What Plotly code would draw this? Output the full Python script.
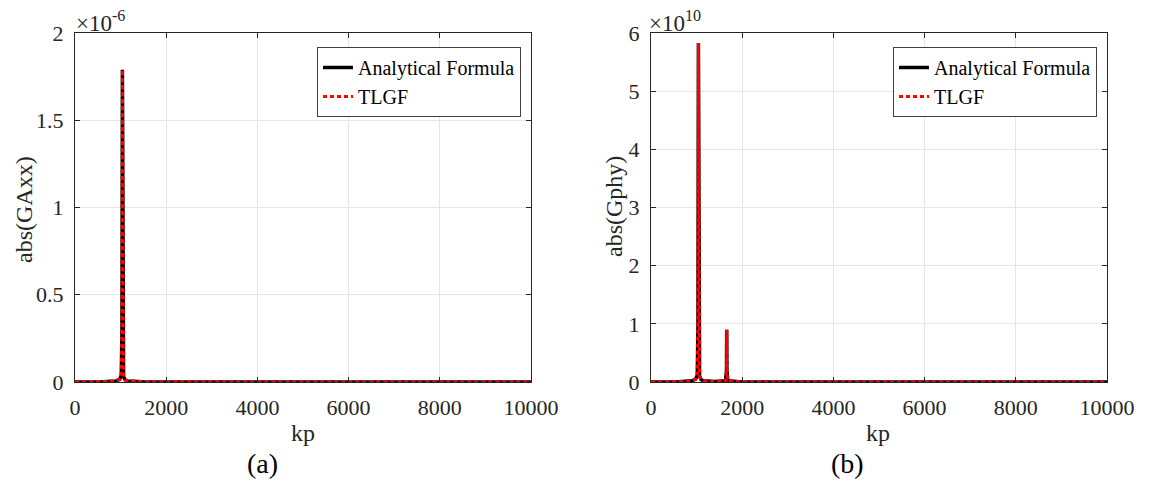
import plotly.graph_objects as go

# ---- data ----
kp_a = [0, 300, 600, 900, 980, 1015, 1030, 1040, 1050, 1065, 1100, 1150, 1500, 2000, 3000, 4000, 5000, 6000, 7000, 8000, 9000, 10000]
gaxx = [0.0, 0.0, 0.002e-6, 0.006e-6, 0.015e-6, 0.04e-6, 0.3e-6, 1.79e-6, 0.3e-6, 0.03e-6, 0.012e-6, 0.006e-6, 0.002e-6, 0.001e-6, 0.0, 0.0, 0.0, 0.0, 0.0, 0.0, 0.0, 0.0]

kp_b = [0, 300, 600, 900, 980, 1015, 1030, 1040, 1050, 1065, 1100, 1150, 1400, 1635, 1655, 1660, 1665, 1685, 2000, 3000, 4000, 5000, 6000, 7000, 8000, 9000, 10000]
gphy = [0.0, 0.0, 0.005e10, 0.02e10, 0.05e10, 0.12e10, 1.0e10, 5.83e10, 1.0e10, 0.1e10, 0.04e10, 0.02e10, 0.01e10, 0.02e10, 0.2e10, 0.90e10, 0.2e10, 0.02e10, 0.0, 0.0, 0.0, 0.0, 0.0, 0.0, 0.0, 0.0, 0.0]

series_names = ["Analytical Formula", "TLGF"]
x_ticks = [0, 2000, 4000, 6000, 8000, 10000]
ya_ticks = [0, 0.5e-6, 1e-6, 1.5e-6, 2e-6]
ya_labels = ["0", "0.5", "1", "1.5", "2"]
yb_ticks = [0, 1e10, 2e10, 3e10, 4e10, 5e10, 6e10]
yb_labels = ["0", "1", "2", "3", "4", "5", "6"]

FONT = "Liberation Serif"
AX = "#262626"
GRID = "#e6e6e6"

fig = go.Figure()

for (xs, ys, xa, ya, lg) in [(kp_a, gaxx, "x", "y", "legend"), (kp_b, gphy, "x2", "y2", "legend2")]:
    fig.add_trace(go.Scatter(x=xs, y=ys, xaxis=xa, yaxis=ya, mode="lines", name=series_names[0],
                             line=dict(color="black", width=3.5), legend=lg))
    fig.add_trace(go.Scatter(x=xs, y=ys, xaxis=xa, yaxis=ya, mode="lines", name=series_names[1],
                             line=dict(color="#ff0000", width=3, dash="4px,3px"), legend=lg))

common_x = dict(range=[0, 10000], tickvals=x_ticks, ticktext=[str(v) for v in x_ticks],
                showline=True, linecolor=AX, linewidth=1, mirror="ticks", ticks="inside",
                ticklen=5, tickcolor=AX, showgrid=True, gridcolor=GRID, gridwidth=1, zeroline=False,
                tickfont=dict(family=FONT, size=22, color=AX), automargin=False, ticklabelstandoff=6)
common_y = dict(showline=True, linecolor=AX, linewidth=1, mirror="ticks", ticks="inside",
                ticklen=5, tickcolor=AX, showgrid=True, gridcolor=GRID, gridwidth=1, zeroline=False,
                tickfont=dict(family=FONT, size=22, color=AX), automargin=False, ticklabelstandoff=6)

def ann(text, x, y, size, angle=0, xanchor="center", yanchor="middle", color=AX):
    return dict(text=text, x=x, y=y, xref="paper", yref="paper", xanchor=xanchor, yanchor=yanchor,
                showarrow=False, textangle=angle, font=dict(family=FONT, size=size, color=color))

L, R, T, B = 75, 42, 33, 99
PW, PH = 1149 - L - R, 481 - T - B
px = lambda x: (x - L) / PW
py = lambda y: (481 - B - y) / PH

legend_style = dict(xanchor="left", yanchor="top", bgcolor="white", bordercolor="#404040", borderwidth=1,
                    font=dict(family=FONT, size=20, color="black"), tracegroupgap=0, itemwidth=30)

fig.update_layout(
    width=1149, height=481,
    margin=dict(l=L, r=R, t=T, b=B, autoexpand=False),
    paper_bgcolor="white", plot_bgcolor="white",
    font=dict(family=FONT, color=AX),
    xaxis=dict(domain=[0, px(531)], anchor="y", **common_x),
    yaxis=dict(domain=[0, 1], anchor="x", range=[0, 2e-6], tickvals=ya_ticks, ticktext=ya_labels, **common_y),
    xaxis2=dict(domain=[px(651), 1], anchor="y2", **common_x),
    yaxis2=dict(domain=[0, 1], anchor="x2", range=[0, 6e10], tickvals=yb_ticks, ticktext=yb_labels, **common_y),
    legend=dict(x=px(317), y=py(47), **legend_style),
    legend2=dict(x=px(893), y=py(47), **legend_style),
    annotations=[
        ann("×10<sup>-6</sup>", px(74), py(5), 23, xanchor="left", yanchor="top"),
        ann("×10<sup>10</sup>", px(647), py(5), 23, xanchor="left", yanchor="top"),
        ann("kp", px(303), py(433), 24),
        ann("kp", px(878), py(433), 24),
        ann("abs(GAxx)", px(24), py(210), 24, angle=-90),
        ann("abs(Gphy)", px(614), py(207), 24, angle=-90),
        ann("(a)", px(262), py(463), 28, color="black"),
        ann("(b)", px(847), py(463), 28, color="black"),
    ],
)

fig.write_html("out.html", config={"displayModeBar": False},
               post_script="document.body.style.margin='0';document.body.style.overflow='hidden';")
